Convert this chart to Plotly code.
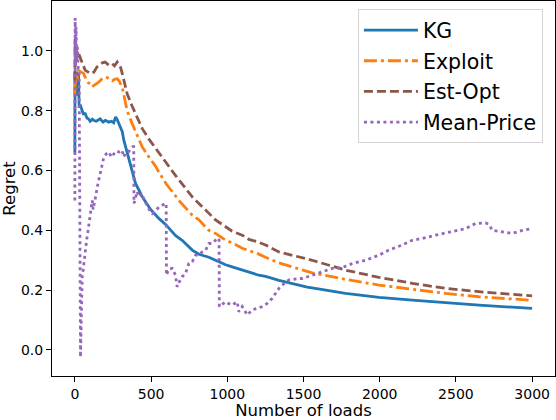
import plotly.graph_objects as go

# ---- data ----
kg_x = [0, 1, 5, 12, 18, 24, 28, 35, 46, 55, 68, 80, 90, 100, 115, 123, 140, 155, 166, 185, 200,
        223, 240, 255, 267, 278, 289, 311, 322, 333, 354, 376, 398, 420, 442, 497, 551, 595, 661,
        704, 770, 814, 879, 923, 989, 1032, 1098, 1142, 1207, 1251, 1317, 1339, 1524, 1557, 1776,
        1995, 2214, 2433, 2651, 3000]
kg_y = [0.66, 0.935, 0.88, 0.93, 0.85, 0.92, 0.81, 0.82, 0.805, 0.79, 0.79, 0.775, 0.773, 0.765,
        0.772, 0.768, 0.765, 0.77, 0.773, 0.762, 0.768, 0.762, 0.765, 0.76, 0.779, 0.77, 0.757,
        0.73, 0.70, 0.68, 0.634, 0.60, 0.557, 0.535, 0.512, 0.47, 0.44, 0.42, 0.382, 0.367, 0.334,
        0.32, 0.31, 0.30, 0.285, 0.278, 0.267, 0.262, 0.25, 0.246, 0.236, 0.233, 0.21, 0.208,
        0.189, 0.176, 0.167, 0.158, 0.150, 0.139]

exploit_x = [0, 1, 4, 8, 14, 20, 24, 40, 57, 70, 85, 101, 112, 125, 140, 157, 175, 199, 215, 230,
             245, 260, 278, 290, 300, 311, 333, 343, 376, 420, 442, 486, 529, 551, 600, 661, 682,
             770, 814, 879, 923, 989, 1032, 1098, 1142, 1196, 1251, 1339, 1557, 1776, 1995, 2214,
             2433, 2651, 3000]
exploit_y = [0.85, 0.93, 0.87, 0.92, 0.90, 0.93, 0.935, 0.93, 0.925, 0.91, 0.895, 0.89, 0.88,
             0.885, 0.89, 0.896, 0.905, 0.913, 0.91, 0.905, 0.90, 0.905, 0.907, 0.90, 0.89, 0.879,
             0.824, 0.80, 0.757, 0.705, 0.679, 0.645, 0.615, 0.595, 0.555, 0.515, 0.50, 0.451,
             0.435, 0.40, 0.39, 0.367, 0.358, 0.34, 0.333, 0.323, 0.31, 0.291, 0.258, 0.236,
             0.217, 0.203, 0.189, 0.178, 0.166]

estopt_x = [0, 1, 4, 8, 12, 18, 26, 33, 48, 68, 85, 101, 125, 144, 165, 180, 199, 223, 245, 260,
            278, 289, 300, 311, 343, 376, 398, 442, 486, 551, 600, 661, 770, 814, 879, 923, 989,
            1032, 1098, 1142, 1196, 1251, 1339, 1557, 1776, 1995, 2214, 2433, 2651, 3000]
estopt_y = [0.90, 1.04, 0.95, 1.02, 0.97, 1.0, 0.99, 0.985, 0.963, 0.935, 0.93, 0.924, 0.929,
            0.946, 0.955, 0.96, 0.963, 0.952, 0.957, 0.95, 0.963, 0.952, 0.945, 0.924, 0.857,
            0.815, 0.79, 0.74, 0.705, 0.66, 0.625, 0.583, 0.512, 0.49, 0.456, 0.435, 0.412,
            0.397, 0.384, 0.37, 0.362, 0.351, 0.328, 0.30, 0.267, 0.243, 0.223, 0.206, 0.195,
            0.181]

mean_x = [0, 2, 5, 8, 12, 16, 22, 28, 35, 37, 42, 48, 55, 59, 64, 70, 78, 87, 95, 103, 108, 114,
          120, 128, 136, 147, 158, 168, 180, 190, 205, 223, 240, 256, 270, 289, 310, 320, 332, 350,
          365, 380, 386, 388, 409, 420, 442, 453, 475, 497, 507, 530, 551, 575, 595, 599, 601, 615,
          639, 660, 671, 682, 704, 726, 748, 770, 792, 814, 835, 858, 879, 901, 934, 946, 948, 960,
          989, 1010, 1032, 1065, 1076, 1098, 1131, 1163, 1200, 1229, 1260, 1295, 1339, 1360, 1404,
          1415, 1470, 1492, 1557, 1623, 1689, 1750, 1820, 1907, 1995, 2060, 2148, 2214, 2279,
          2367, 2476, 2564, 2629, 2695, 2717, 2739, 2804, 2870, 2936, 3000]
mean_y = [0.50, 1.11, 0.95, 1.08, 0.97, 1.02, 0.94, 0.935, -0.02, -0.024, 0.10, 0.245, 0.27, 0.29,
          0.30, 0.345, 0.37, 0.40, 0.43, 0.456, 0.48, 0.50, 0.47, 0.50, 0.512, 0.545, 0.57, 0.59,
          0.62, 0.645, 0.655, 0.662, 0.645, 0.657, 0.665, 0.662, 0.668, 0.645, 0.657, 0.66, 0.673,
          0.68, 0.68, 0.49, 0.53, 0.512, 0.523, 0.50, 0.484, 0.46, 0.456, 0.465, 0.478, 0.485,
          0.49, 0.49, 0.25, 0.27, 0.273, 0.25, 0.211, 0.225, 0.245, 0.256, 0.29, 0.295, 0.317,
          0.318, 0.328, 0.334, 0.356, 0.356, 0.373, 0.373, 0.145, 0.15, 0.161, 0.155, 0.150,
          0.161, 0.128, 0.145, 0.117, 0.134, 0.14, 0.145, 0.155, 0.173, 0.206, 0.217, 0.234,
          0.234, 0.239, 0.239, 0.25, 0.261, 0.273, 0.275, 0.289, 0.30, 0.317, 0.334, 0.351, 0.367,
          0.373, 0.384, 0.395, 0.406, 0.423, 0.425, 0.42, 0.40, 0.395, 0.39, 0.40, 0.406]

x_ticks = [0, 500, 1000, 1500, 2000, 2500, 3000]
y_ticks = [0.0, 0.2, 0.4, 0.6, 0.8, 1.0]

FONT = "DejaVu Sans"

fig = go.Figure()
series = [
    ("KG", kg_x, kg_y, "#1f77b4", "solid"),
    ("Exploit", exploit_x, exploit_y, "#ff7f0e", "13px,4px,3px,4px"),
    ("Est-Opt", estopt_x, estopt_y, "#8c564b", "9px,4px"),
    ("Mean-Price", mean_x, mean_y, "#9467bd", "3px,3.5px"),
]
for name, xs, ys, col, dash in series:
    fig.add_trace(go.Scatter(x=xs, y=ys, mode="lines", name=name, legendgroup=name,
                             line=dict(color=col, width=2.8, dash=dash)))

fig.update_layout(
    width=556, height=420,
    margin=dict(l=52, r=1, t=1, b=44),
    paper_bgcolor="white", plot_bgcolor="white",
    font=dict(family=FONT, color="#000000"),
    showlegend=True,
    legend=dict(x=0.976, xanchor="right", y=0.978, yanchor="top",
                bgcolor="white", bordercolor="#d4d4d4", borderwidth=1,
                font=dict(size=20.5, family=FONT), itemwidth=54, tracegroupgap=1),
)
fig.update_xaxes(range=[-150, 3150], tickvals=x_ticks, ticks="outside", ticklen=5,
                 tickcolor="#000", tickfont=dict(size=14), showgrid=False, zeroline=False,
                 showline=True, linecolor="#000", linewidth=1, mirror=True, automargin=False,
                 title=dict(text="Number of loads", font=dict(size=16.5), standoff=3))
fig.update_yaxes(range=[-0.087, 1.167], tickvals=y_ticks, tickformat=".1f", ticks="outside",
                 ticklen=5, tickcolor="#000", tickfont=dict(size=14), showgrid=False,
                 zeroline=False, showline=True, linecolor="#000", linewidth=1, mirror=True,
                 automargin=False,
                 title=dict(text="Regret", font=dict(size=16.5), standoff=3))

fig.write_html("out.html", config={"displayModeBar": False},
               post_script="document.body.style.margin='0';")
